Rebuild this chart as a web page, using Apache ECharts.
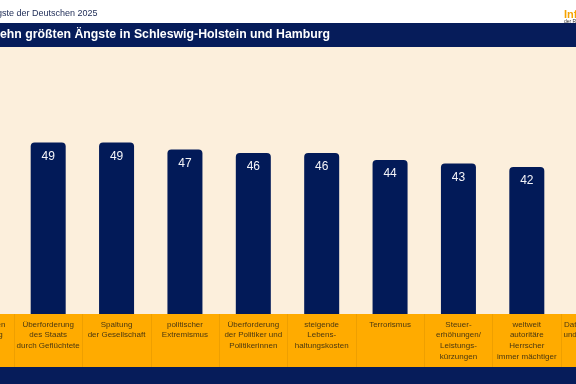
<!DOCTYPE html>
<html><head><meta charset="utf-8">
<script src="https://cdn.jsdelivr.net/npm/echarts@6/dist/echarts.min.js"></script>
<style>html,body{margin:0;padding:0;background:#fff}#c{width:576px;height:384px}</style>
</head><body><div id="c"></div>
<script>
var categories = [
  'höhere Mieten\nVerdrängung',
  'Überforderung\ndes Staats\ndurch Geflüchtete',
  'Spaltung\nder Gesellschaft',
  'politischer\nExtremismus',
  'Überforderung\nder Politiker und\nPolitikerinnen',
  'steigende\nLebens-\nhaltungskosten',
  'Terrorismus',
  'Steuer-\nerhöhungen/\nLeistungs-\nkürzungen',
  'weltweit\nautoritäre\nHerrscher\nimmer mächtiger',
  'Datenmissbrauch\nund Cyberangriffe'
];
var values = [50, 49, 49, 47, 46, 46, 44, 43, 42, 41];
var topText = 'Die Ängste der Deutschen 2025';
var titleText = 'Die zehn größten Ängste in Schleswig-Holstein und Hamburg';

var chart = echarts.init(document.getElementById('c'), null, {renderer: 'canvas'});
var colW = 68.375;
var gridLeft = 14 - colW;
var gridWidth = colW * categories.length;
chart.setOption({
  animation: false,
  backgroundColor: '#ffffff',
  graphic: [
    {type: 'rect', z: -10, shape: {x: 0, y: 47, width: 576, height: 267}, style: {fill: '#FCEFDC'}},
    {type: 'rect', z: -10, shape: {x: 0, y: 314, width: 576, height: 53}, style: {fill: '#FFAB00'}},
    {type: 'rect', z: -10, shape: {x: 0, y: 367, width: 576, height: 17}, style: {fill: '#061C5A'}},
    {type: 'rect', z: -10, shape: {x: 0, y: 23, width: 576, height: 24}, style: {fill: '#061C5A'}},
    {type: 'text', x: -30, y: 14, style: {text: topText, font: '9px "Liberation Sans", Arial, sans-serif', fill: '#1C2A55', verticalAlign: 'middle'}},
    {type: 'text', x: -28.7, y: 35, style: {text: titleText, font: 'bold 12.3px "Liberation Sans", Arial, sans-serif', fill: '#ffffff', verticalAlign: 'middle'}},
    {type: 'text', x: 564, y: 15, style: {text: 'Infocenter', font: 'bold 11px "Liberation Sans", Arial, sans-serif', fill: '#F5A300', verticalAlign: 'middle'}},
    {type: 'text', x: 564, y: 22, style: {text: 'der R+V Versicherung', font: '5px "Liberation Sans", Arial, sans-serif', fill: '#333333', verticalAlign: 'middle'}}
  ],
  grid: {left: gridLeft, width: gridWidth, top: 48, bottom: 70, containLabel: false, outerBoundsMode: 'none'},
  xAxis: {
    type: 'category',
    data: categories,
    axisLine: {show: false},
    axisTick: {show: true, length: 53, lineStyle: {color: '#EE9F00', width: 1}},
    axisLabel: {interval: 0, margin: 5, fontSize: 8, lineHeight: 10.7, color: '#4A3810', fontFamily: '"Liberation Sans", Arial, sans-serif', verticalAlign: 'top'}
  },
  yAxis: {type: 'value', min: 0, max: 76, show: false, splitLine: {show: false}},
  series: [{
    type: 'bar',
    data: values,
    barWidth: 35,
    itemStyle: {color: '#021A58', borderRadius: [4, 4, 0, 0]},
    label: {show: true, position: 'insideTop', distance: 8, fontSize: 12, color: '#F4F4F8', fontFamily: '"Liberation Sans", Arial, sans-serif'}
  }]
});
</script></body></html>
